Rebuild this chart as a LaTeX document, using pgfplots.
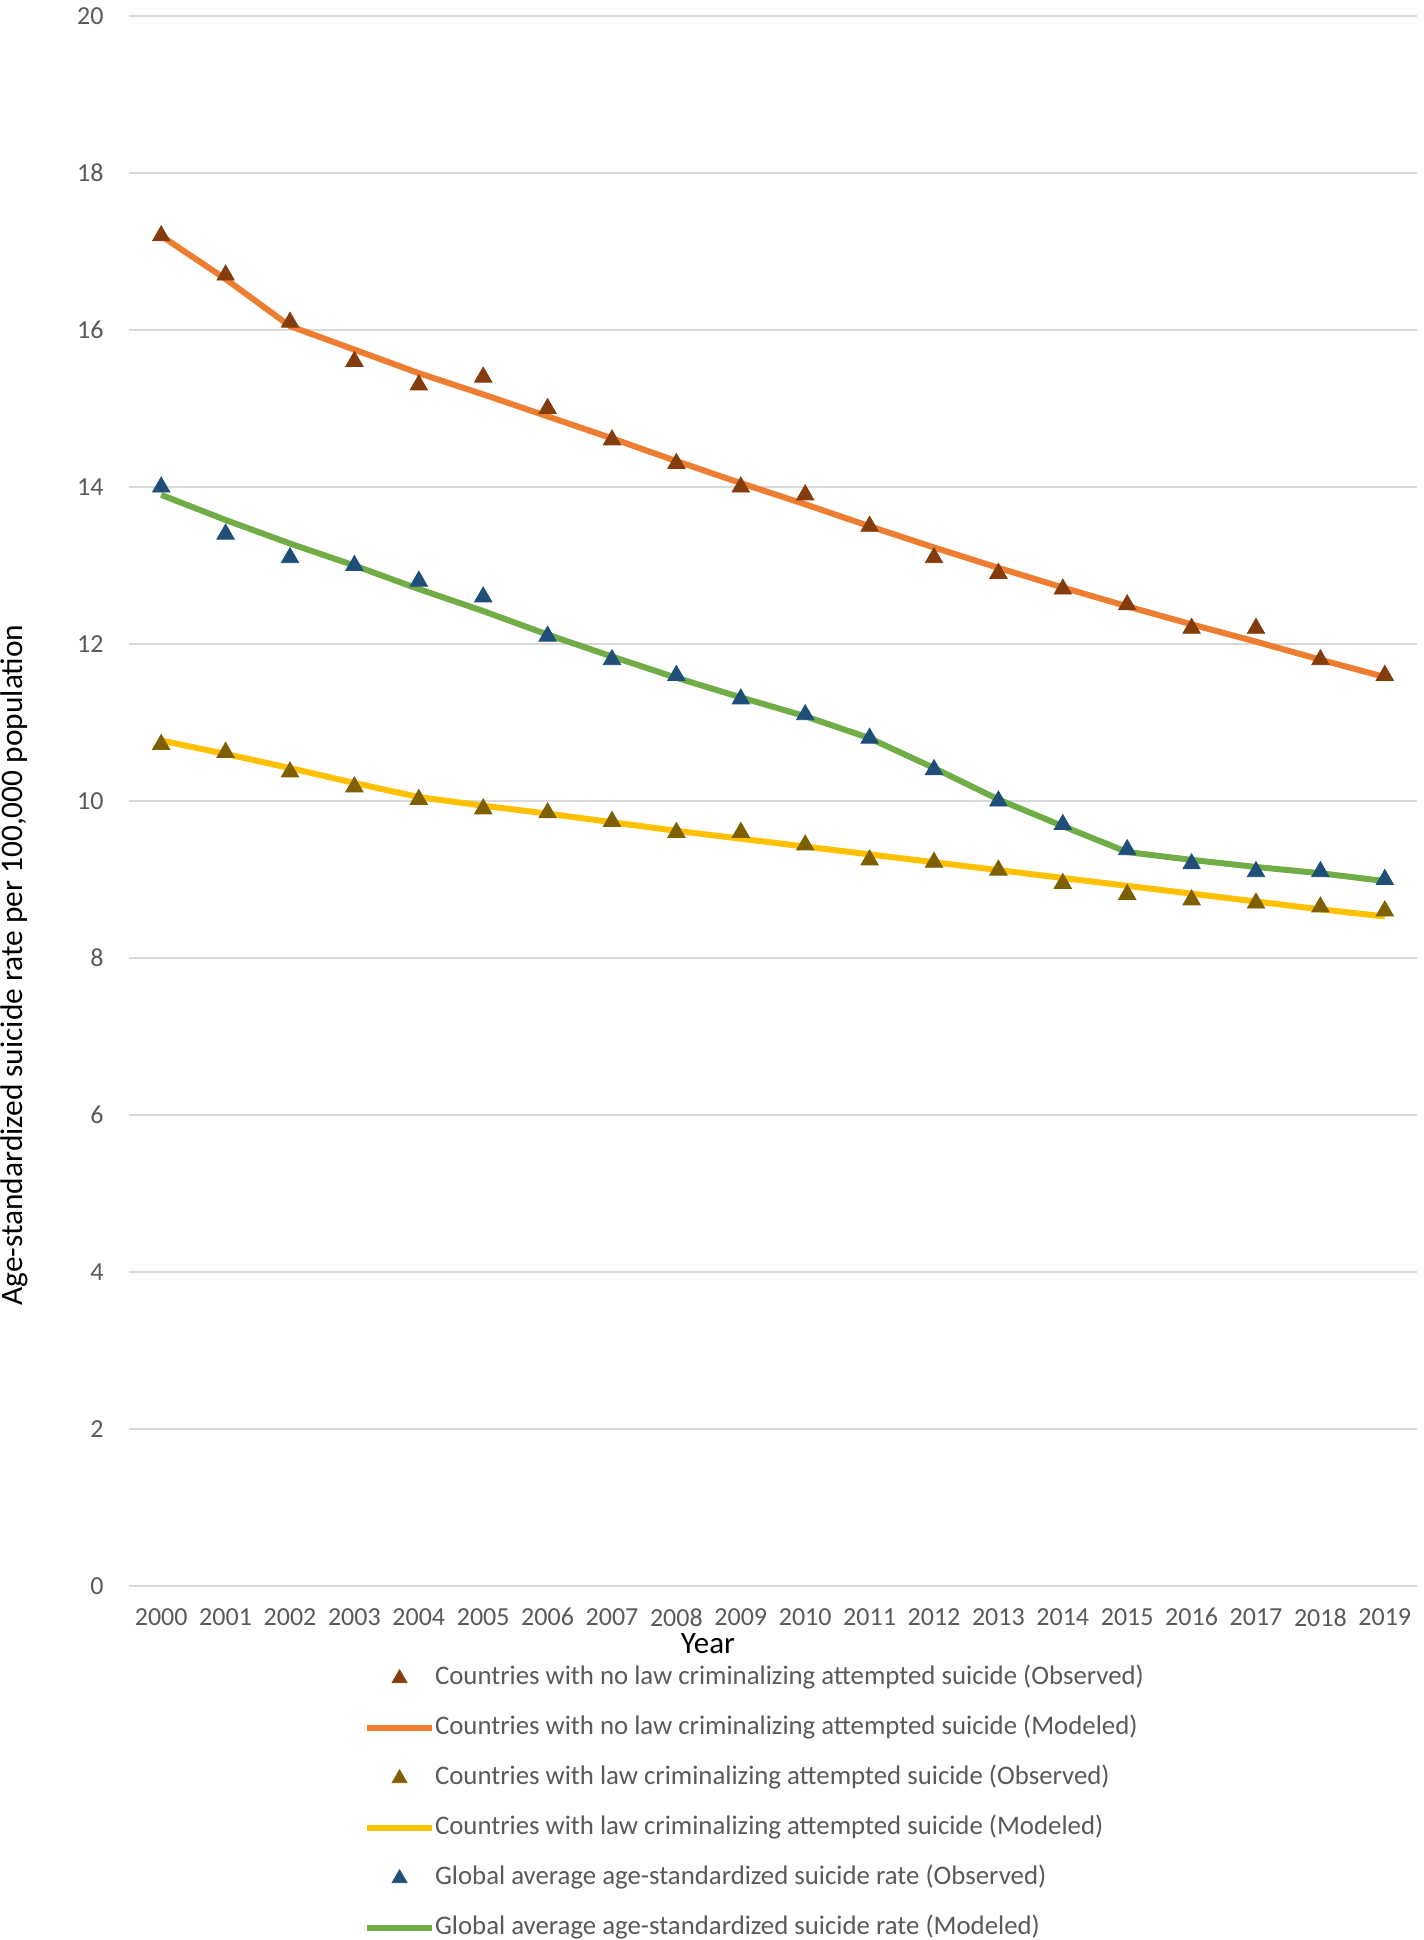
\documentclass[border=0pt]{standalone}
\usepackage{pgfplots}
\pgfplotsset{compat=1.18}
\usepackage{fontspec}
\setmainfont{Carlito}
\definecolor{cOrange}{HTML}{ED7D31}
\definecolor{cYellow}{HTML}{FFC000}
\definecolor{cGreen}{HTML}{70AD47}
\definecolor{cBrown}{HTML}{843C0C}
\definecolor{cOlive}{HTML}{7F6000}
\definecolor{cBlue}{HTML}{1F4E79}
\definecolor{cGrid}{HTML}{D9D9D9}
\definecolor{cText}{HTML}{595959}
\pgfplotsset{
  markleg/.style={legend image code/.code={\draw[##1] plot coordinates {(16.25pt,0pt)};}},
  lineleg/.style={legend image code/.code={\draw[##1] (0pt,0pt) -- (32.5pt,0pt);}},
}
\begin{document}
\begin{tikzpicture}
\begin{axis}[
  at={(64.5pt,-793pt)}, anchor=south west,
  scale only axis, width=644pt, height=785pt,
  xmin=-0.5, xmax=19.5, ymin=0, ymax=20,
  xtick={0,...,19},
  xticklabels={2000,2001,2002,2003,2004,2005,2006,2007,2008,2009,2010,2011,2012,2013,2014,2015,2016,2017,2018,2019},
  ytick={0,2,...,20},
  ymajorgrids, grid style={cGrid, line width=1pt},
  axis line style={draw=none}, tick style={draw=none},
  /pgf/number format/assume math mode=true,
  tick label style={font=\fontsize{13}{15}\selectfont, text=cText},
  yticklabel style={inner sep=0pt, anchor=east, xshift=-12.5pt},
  xticklabel style={inner sep=0pt, anchor=north, yshift=-11pt},
  ylabel={Age-standardized suicide rate per 100,000 population},
  ylabel style={at={(axis description cs:-0.0890,0.3955)}, anchor=center, font=\fontsize{15.7}{17}\selectfont},
  xlabel={Year},
  xlabel style={at={(axis description cs:0.4495,-0.0369)}, anchor=center, font=\fontsize{15.5}{17}\selectfont},
  legend cell align=left,
  legend style={at={(axis description cs:0.1825,-0.0512)}, anchor=north west, draw=none, fill=none,
    inner sep=0pt, outer sep=0pt, row sep=13pt, column sep=0pt,
    font=\fontsize{13.4}{15}\selectfont, text=cText,
    nodes={inner sep=0pt, text height=9pt, text depth=3pt}},
]
% legend entries
\addlegendimage{only marks, mark=triangle*, mark size=4.3pt, color=cBrown, markleg}
\addlegendentry{Countries with no law criminalizing attempted suicide (Observed)}
\addlegendimage{cOrange, line width=3pt, lineleg}
\addlegendentry{Countries with no law criminalizing attempted suicide (Modeled)}
\addlegendimage{only marks, mark=triangle*, mark size=4.3pt, color=cOlive, markleg}
\addlegendentry{Countries with law criminalizing attempted suicide (Observed)}
\addlegendimage{cYellow, line width=3pt, lineleg}
\addlegendentry{Countries with law criminalizing attempted suicide (Modeled)}
\addlegendimage{only marks, mark=triangle*, mark size=4.3pt, color=cBlue, markleg}
\addlegendentry{Global average age-standardized suicide rate (Observed)}
\addlegendimage{cGreen, line width=3pt, lineleg}
\addlegendentry{Global average age-standardized suicide rate (Modeled)}

% modeled lines
\addplot[forget plot, cOrange, line width=3pt, line join=round] coordinates {
(0,17.2)(1,16.65)(2,16.05)(3,15.75)(4,15.45)(5,15.18)(6,14.9)(7,14.62)(8,14.33)(9,14.05)
(10,13.78)(11,13.5)(12,13.23)(13,12.97)(14,12.72)(15,12.48)(16,12.25)(17,12.03)(18,11.8)(19,11.58)};
\addplot[forget plot, cYellow, line width=3pt, line join=round] coordinates {
(0,10.77)(1,10.6)(2,10.42)(3,10.23)(4,10.05)(5,9.94)(6,9.84)(7,9.73)(8,9.62)(9,9.52)
(10,9.42)(11,9.32)(12,9.22)(13,9.12)(14,9.02)(15,8.92)(16,8.82)(17,8.72)(18,8.62)(19,8.53)};
\addplot[forget plot, cGreen, line width=3pt, line join=round] coordinates {
(0,13.9)(1,13.58)(2,13.28)(3,13.0)(4,12.7)(5,12.42)(6,12.12)(7,11.84)(8,11.57)(9,11.32)
(10,11.08)(11,10.8)(12,10.42)(13,10.02)(14,9.68)(15,9.35)(16,9.25)(17,9.16)(18,9.08)(19,8.98)};

% observed markers
\addplot[forget plot, only marks, mark=triangle*, mark size=5pt, color=cBrown] coordinates {
(0,17.2)(1,16.7)(2,16.1)(3,15.6)(4,15.3)(5,15.4)(6,15.0)(7,14.6)(8,14.3)(9,14.0)
(10,13.9)(11,13.5)(12,13.1)(13,12.9)(14,12.7)(15,12.5)(16,12.2)(17,12.2)(18,11.8)(19,11.6)};
\addplot[forget plot, only marks, mark=triangle*, mark size=5pt, color=cOlive] coordinates {
(0,10.72)(1,10.62)(2,10.37)(3,10.18)(4,10.02)(5,9.9)(6,9.85)(7,9.74)(8,9.6)(9,9.6)
(10,9.44)(11,9.25)(12,9.22)(13,9.12)(14,8.95)(15,8.81)(16,8.74)(17,8.7)(18,8.65)(19,8.6)};
\addplot[forget plot, only marks, mark=triangle*, mark size=5pt, color=cBlue] coordinates {
(0,14.0)(1,13.4)(2,13.1)(3,13.0)(4,12.8)(5,12.6)(6,12.1)(7,11.8)(8,11.6)(9,11.3)
(10,11.1)(11,10.8)(12,10.4)(13,10.0)(14,9.7)(15,9.38)(16,9.2)(17,9.1)(18,9.1)(19,9.0)};
\end{axis}
\pgfresetboundingbox
\path (0pt,0pt) rectangle (712pt,-970pt);
\end{tikzpicture}
\end{document}
